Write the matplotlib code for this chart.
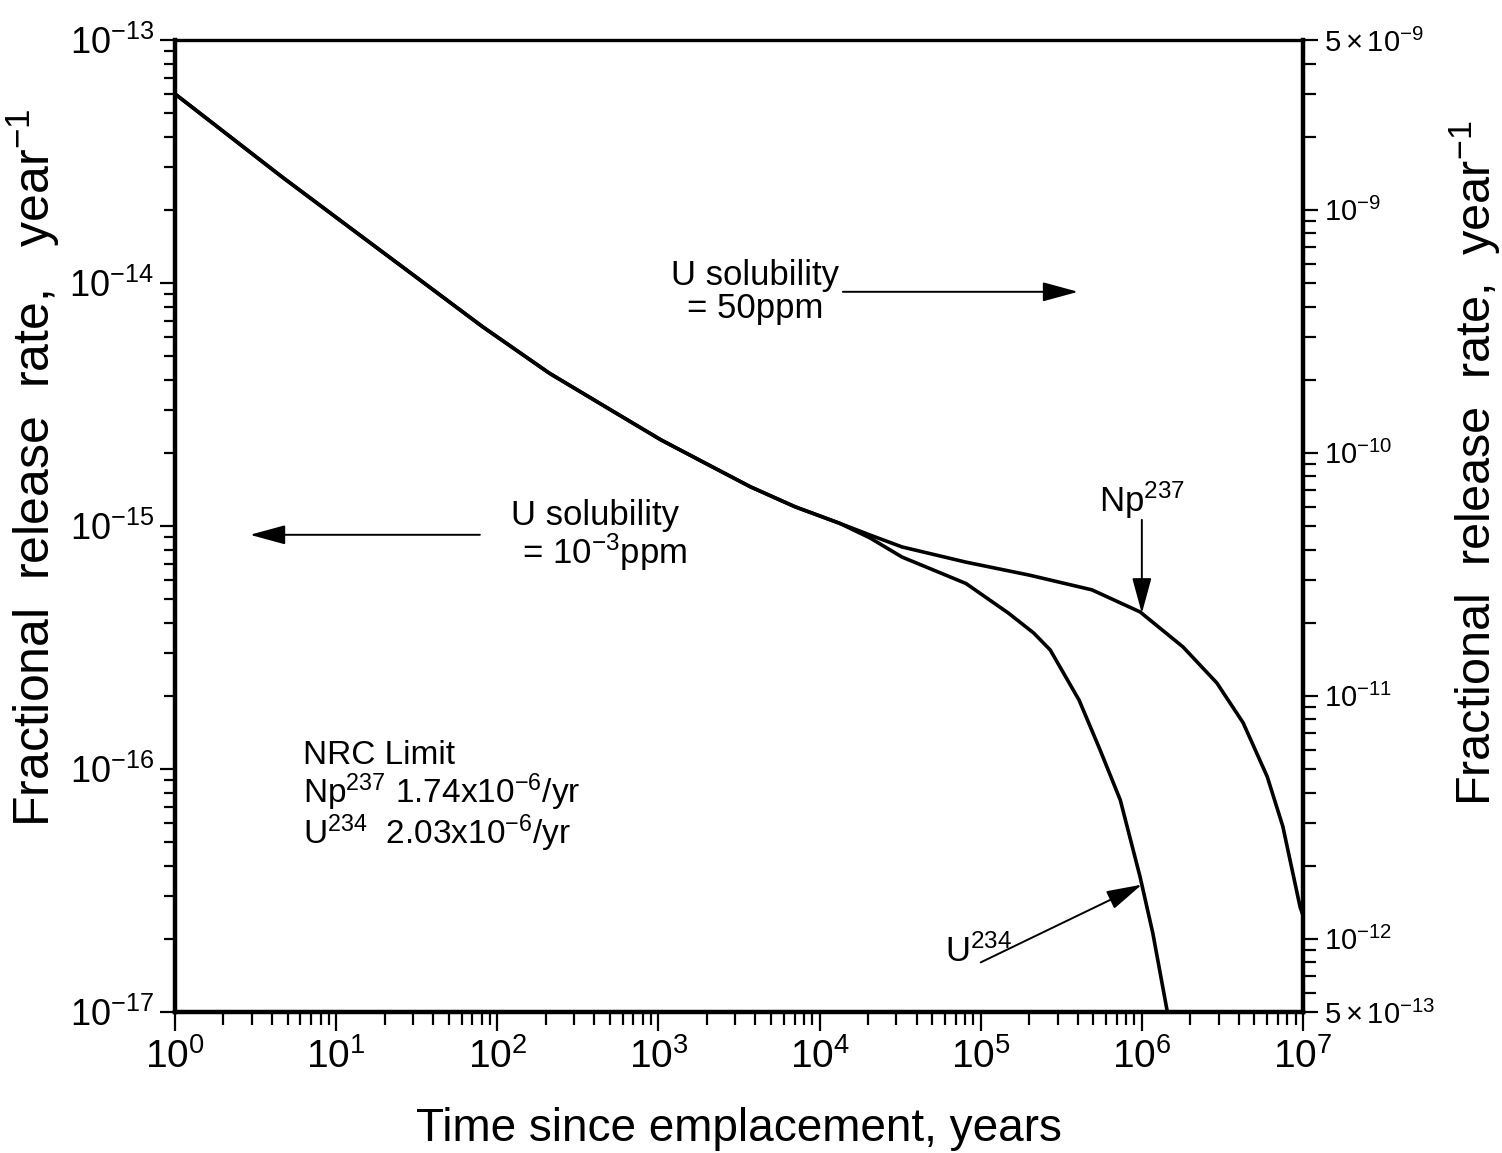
import numpy as np
import matplotlib

matplotlib.use('Agg')
import matplotlib.pyplot as plt
from matplotlib.ticker import LogLocator, NullFormatter, FixedLocator, FixedFormatter

plt.rcParams['font.family'] = ['Liberation Sans', 'DejaVu Sans']
plt.rcParams['mathtext.fontset'] = 'custom'
plt.rcParams['mathtext.rm'] = 'Liberation Sans'
plt.rcParams['mathtext.it'] = 'Liberation Sans'
plt.rcParams['mathtext.bf'] = 'Liberation Sans:bold'

# shared part of the release curve (both nuclides), years / per year
t_common = [1.0, 1.72, 4.59, 11.95, 31.1, 81.0, 211, 548, 1039, 1965, 3722, 7040, 13320]
rate_common = [6.0e-14, 4.54e-14, 2.74e-14, 1.705e-14, 1.062e-14, 6.61e-15, 4.25e-15,
               2.91e-15, 2.26e-15, 1.81e-15, 1.45e-15, 1.20e-15, 1.026e-15]

# Np-237 branch
t_np = [20560, 32500, 81000, 2.0e5, 4.9e5, 9.75e5, 1.8e6, 2.92e6, 4.25e6, 6.0e6, 7.5e6,
        9.6e6, 1.0e7]
rate_np = [9.18e-16, 8.2e-16, 7.1e-16, 6.28e-16, 5.46e-16, 4.43e-16, 3.18e-16, 2.26e-16,
           1.55e-16, 9.3e-17, 5.8e-17, 2.7e-17, 2.5e-17]

# U-234 branch
t_u = [20560, 32500, 81000, 1.48e5, 2.13e5, 2.7e5, 4.08e5, 5.5e5, 7.35e5, 9.75e5, 1.17e6,
       1.44e6]
rate_u = [8.93e-16, 7.45e-16, 5.8e-16, 4.39e-16, 3.63e-16, 3.09e-16, 1.92e-16, 1.20e-16,
          7.45e-17, 3.6e-17, 2.11e-17, 1.0e-17]

x_ticks = [1e0, 1e1, 1e2, 1e3, 1e4, 1e5, 1e6, 1e7]
left_ticks = [1e-17, 1e-16, 1e-15, 1e-14, 1e-13]
right_ticks = [5e-13, 1e-12, 1e-11, 1e-10, 1e-9, 5e-9]
right_labels = [r'$5\times10^{-13}$', r'$10^{-12}$', r'$10^{-11}$', r'$10^{-10}$',
                r'$10^{-9}$', r'$5\times10^{-9}$']

fig = plt.figure(figsize=(15.02, 11.53), dpi=100)
ax = fig.add_axes([0.1165, 0.1223, 0.751, 0.843])

ax.plot(t_common + t_np, rate_common + rate_np, color='k', lw=2.6, solid_joinstyle='round')
ax.plot(t_common + t_u, rate_common + rate_u, color='k', lw=2.6, solid_joinstyle='round')

ax.set_xscale('log')
ax.set_yscale('log')
ax.set_xlim(1, 1e7)
ax.set_ylim(1e-17, 1e-13)
ax.xaxis.set_major_locator(FixedLocator(x_ticks))
ax.yaxis.set_major_locator(FixedLocator(left_ticks))
ax.xaxis.set_minor_locator(LogLocator(base=10, subs=np.arange(2, 10), numticks=20))
ax.xaxis.set_minor_formatter(NullFormatter())
ax.yaxis.set_minor_locator(LogLocator(base=10, subs=np.arange(2, 10), numticks=20))
ax.yaxis.set_minor_formatter(NullFormatter())

for side, w in [('left', 3.2), ('bottom', 3.2), ('right', 3.2), ('top', 2.4)]:
    ax.spines[side].set_linewidth(w)

ax.tick_params(which='both', direction='out', top=False, right=False, width=1.6)
ax.tick_params(axis='y', which='major', length=11, labelsize=26, pad=4)
ax.tick_params(axis='y', which='minor', length=8)
ax.tick_params(axis='x', which='major', length=14, labelsize=28, pad=5)
ax.tick_params(axis='x', which='minor', length=9)

ax.set_xlabel('Time since emplacement, years', fontsize=33, labelpad=22)
ax.set_ylabel(r'Fractional  release  rate,   year$^{-1}$', fontsize=36)
ax.yaxis.set_label_coords(-0.100, 0.56)

# right hand scale (same curve, different normalisation)
ax2 = ax.twinx()
ax2.set_yscale('log')
ax2.set_ylim(5e-13, 5e-9)
ax2.yaxis.set_major_locator(FixedLocator(right_ticks))
ax2.yaxis.set_major_formatter(FixedFormatter(right_labels))
ax2.yaxis.set_minor_locator(LogLocator(base=10, subs=np.arange(2, 10), numticks=20))
ax2.yaxis.set_minor_formatter(NullFormatter())
for side in ['left', 'bottom', 'top', 'right']:
    ax2.spines[side].set_visible(False)
ax2.tick_params(which='both', direction='out', width=1.6)
ax2.tick_params(which='major', length=11, labelsize=21, pad=4)
ax2.tick_params(which='minor', length=9)
ax2.set_ylabel(r'Fractional  release  rate,  year$^{-1}$', fontsize=35)
ax2.yaxis.set_label_coords(1.128, 0.565)

arrow = dict(arrowstyle='-|>,head_length=1.1,head_width=0.3', color='k', lw=1.4,
             mutation_scale=20, shrinkA=0, shrinkB=0)

# U solubility annotations
ax.text(3980, 9.2e-15, 'U solubility\n= 50ppm', fontsize=25, ha='center', va='center',
        linespacing=1.0)
ax.annotate('', xy=(4.02e5, 9.2e-15), xytext=(13960, 9.2e-15), arrowprops=arrow)

ax.text(405, 9.1e-16, 'U solubility\n  = 10$^{-3}$ppm', fontsize=25, ha='center', va='center',
        linespacing=1.0)
ax.annotate('', xy=(2.92, 9.2e-16), xytext=(78, 9.2e-16), arrowprops=arrow)

# curve labels
lt = np.log10(t_common + t_np)
lr = np.log10(rate_common + rate_np)
np_tip = 10 ** np.interp(6.0, lt, lr)
ax.text(1e6, 1.05e-15, 'Np$^{237}$', fontsize=25, ha='center', va='bottom')
ax.annotate('', xy=(1e6, np_tip), xytext=(1e6, 1.06e-15), arrowprops=arrow)

lt = np.log10(t_common + t_u)
lr = np.log10(rate_common + rate_u)
u_tip = 10 ** np.interp(6.0, lt, lr)
ax.text(97700, 1.78e-17, 'U$^{234}$', fontsize=25, ha='center', va='center')
ax.annotate('', xy=(1e6, u_tip), xytext=(1.0e5, 1.6e-17), arrowprops=arrow)

ax.text(6.2, 1.31e-16, 'NRC Limit\nNp$^{237}$ 1.74x10$^{-6}$/yr\nU$^{234}$  2.03x10$^{-6}$/yr',
        fontsize=24, ha='left', va='top', linespacing=1.0)

fig.savefig('out.png', dpi=100)
plt.close(fig)
